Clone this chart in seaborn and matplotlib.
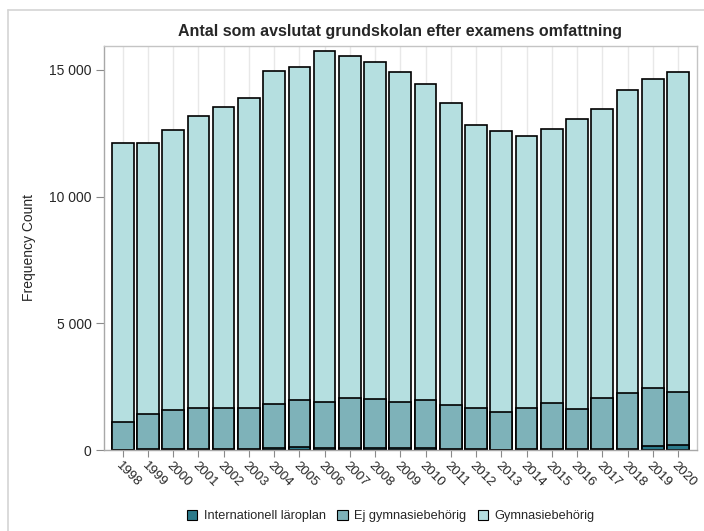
import numpy as np
import pandas as pd
import matplotlib
matplotlib.use("Agg")
import matplotlib.pyplot as plt
from matplotlib.patches import Patch
from matplotlib.lines import Line2D
from matplotlib.ticker import FuncFormatter
import seaborn as sns

# Data
years = [str(y) for y in range(1998, 2021)]
internationell = [10, 30, 40, 60, 60, 60, 90, 100, 80, 80, 80, 70, 70, 40, 40, 10, 30, 60, 30, 60, 60, 150, 180]
ej_gymnasiebehorig = [1080, 1380, 1530, 1610, 1600, 1610, 1740, 1890, 1810, 1970, 1920, 1810, 1890, 1750,
                      1630, 1490, 1610, 1780, 1590, 1990, 2180, 2310, 2100]
gymnasiebehorig = [11020, 10720, 11060, 11530, 11870, 12210, 13120, 13120, 13840, 13490, 13320, 13030,
                   12480, 11900, 11150, 11110, 10770, 10830, 11430, 11400, 11970, 12170, 12640]
series_names = ['Internationell läroplan', 'Ej gymnasiebehörig', 'Gymnasiebehörig']
colors = ['#2b7a8b', '#7eb2b9', '#b5dfe0']

df = pd.DataFrame({
    'year': years,
    'intl': internationell,
    'ej': ej_gymnasiebehorig,
    'gymn': gymnasiebehorig,
})
df['cum_ej'] = df['intl'] + df['ej']
df['total'] = df['cum_ej'] + df['gymn']

sns.set_style('white')
plt.rcParams['font.family'] = ['Liberation Sans', 'DejaVu Sans']

fig = plt.figure(figsize=(7.04, 5.31), dpi=100)
ax = fig.add_axes([0.1477, 0.1525, 0.8419, 0.7615])

# stacked bars: draw totals first, then lower layers on top
for col, c in zip(['total', 'cum_ej', 'intl'], colors[::-1]):
    sns.barplot(data=df, x='year', y=col, color=c, saturation=1, width=0.86,
                edgecolor='black', linewidth=1.2, ax=ax, zorder=2)

ax.set_xlim(-0.74, len(years) - 1 + 0.74)
ax.set_ylim(0, 15960)
ax.set_yticks([0, 5000, 10000, 15000])
ax.yaxis.set_major_formatter(FuncFormatter(lambda v, p: f'{int(v):,}'.replace(',', ' ')))

# vertical grid at category centers
ax.set_axisbelow(True)
for i in range(len(years)):
    ax.axvline(i, color='#e8e8e8', linewidth=1, zorder=0)

for s in ax.spines.values():
    s.set_color('#c4c4c4')
    s.set_linewidth(1)
ax.spines['left'].set_color('#a8a8a8')
ax.spines['bottom'].set_color('#a8a8a8')

ax.tick_params(axis='y', length=6, color='#8a8a8a', labelsize=10, pad=3, left=True)
ax.tick_params(axis='x', length=5, color='#8a8a8a', labelsize=9.5, pad=2, bottom=True)
for lbl in ax.get_xticklabels():
    lbl.set_rotation(-45)
    lbl.set_ha('left')
    lbl.set_va('top')
    lbl.set_rotation_mode('anchor')

ax.set_xlabel('')
ax.set_ylabel('Frequency Count', fontsize=10, labelpad=9)
ax.set_title('Antal som avslutat grundskolan efter examens omfattning',
             fontsize=11.5, fontweight='bold', pad=7)

handles = [Patch(facecolor=c, edgecolor='black', linewidth=0.8) for c in colors]
fig.legend(handles, series_names, loc='center', bbox_to_anchor=(0.555, 0.028), ncol=3,
           frameon=False, fontsize=9.2, handlelength=0.8, handleheight=0.8,
           handletextpad=0.5, columnspacing=0.9)

# outer border (left and top visible)
fig.add_artist(Line2D([8 / 704, 8 / 704], [0, 1 - 10 / 531], transform=fig.transFigure,
                      color='#d4d4d4', linewidth=1.2))
fig.add_artist(Line2D([8 / 704, 1], [1 - 10 / 531, 1 - 10 / 531], transform=fig.transFigure,
                      color='#d4d4d4', linewidth=1.2))

fig.savefig('out.png', dpi=100)
